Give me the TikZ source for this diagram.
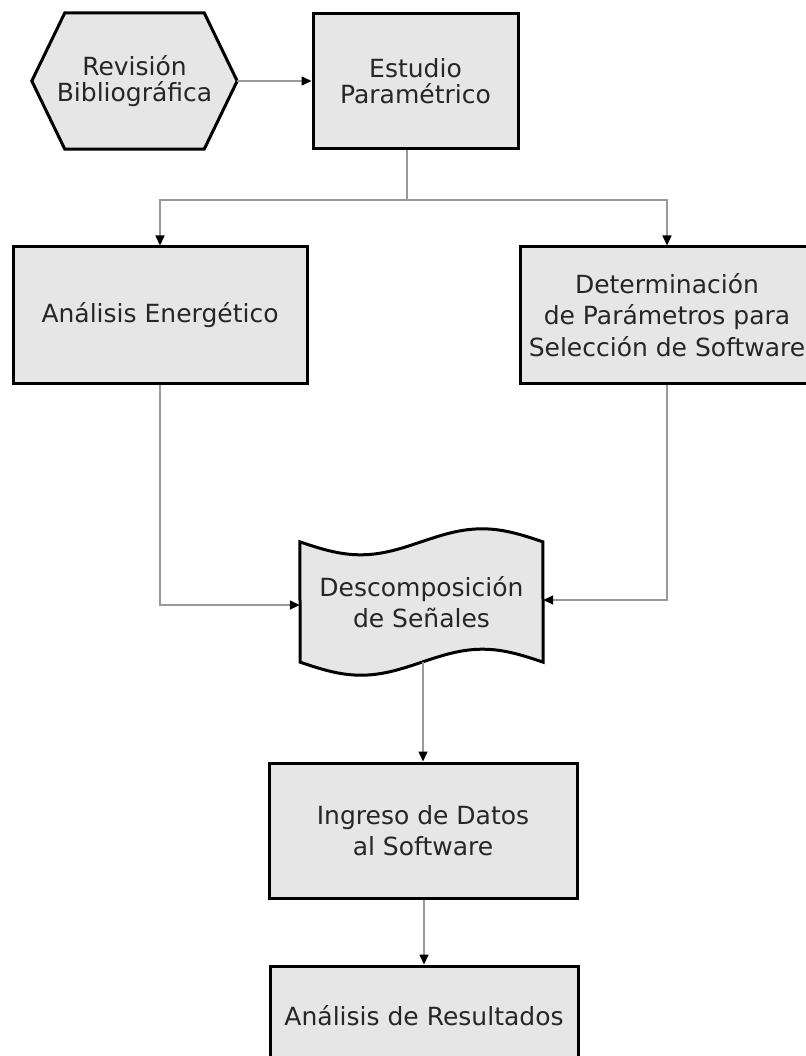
\documentclass[tikz,border=0pt]{standalone}
\usepackage{fontspec}
\setmainfont{DejaVu Sans}
\usetikzlibrary{arrows.meta,backgrounds}
\definecolor{cajagris}{HTML}{E6E6E6}
\definecolor{lineagris}{HTML}{999999}
\definecolor{textogris}{HTML}{262626}
\tikzset{
  caja/.style={draw=black, line width=3pt, fill=cajagris, text=textogris, align=center,
    inner sep=0pt, font=\fontsize{25}{31.5}\selectfont},
  libre/.style={text=textogris, align=center, inner sep=0pt, font=\fontsize{25}{31.5}\selectfont},
  forma/.style={draw=black, line width=3pt, fill=cajagris, line join=miter},
  linea/.style={draw=lineagris, line width=1.5pt},
  flecha/.style={linea, -{Triangle[length=10pt,width=9pt,color=black]}}
}
\begin{document}
\begin{tikzpicture}[x=1pt,y=-1pt]
  \useasboundingbox (0,0) rectangle (805,1056);
  % nodos
  \node[libre, minimum width=205pt, minimum height=136pt, font=\fontsize{25}{25.5}\selectfont]
    (revision) at (134.5,81) {Revisión\\Bibliográfica};
  \node[caja, minimum width=205pt, minimum height=135pt, font=\fontsize{25}{25.5}\selectfont]
    (estudio) at (415.5,81) {Estudio\\Paramétrico};
  \node[caja, minimum width=294pt, minimum height=136pt] (energia) at (160,315) {Análisis Energético};
  \node[caja, minimum width=294pt, minimum height=136pt] (parametros) at (667,315)
    {Determinación\\de Parámetros para\\Selección de Software};
  \node[libre, minimum width=243pt, minimum height=120pt] (senal) at (421.5,602)
    {Descomposición\\de Señales};
  \node[caja, minimum width=308pt, minimum height=135pt] (ingreso) at (423,830.5)
    {Ingreso de Datos\\al Software};
  \node[caja, minimum width=308pt, minimum height=100pt] (resultados) at (424,1016)
    {Análisis de Resultados};
  % formas de fondo
  \begin{scope}[on background layer]
    \draw[forma] (revision.west) -- ([xshift=33pt]revision.north west)
      -- ([xshift=-33pt]revision.north east) -- (revision.east)
      -- ([xshift=-33pt]revision.south east) -- ([xshift=33pt]revision.south west) -- cycle;
    \draw[forma] (senal.north west) sin ++(60.75,13) cos ++(60.75,-13) sin ++(60.75,-13) cos ++(60.75,13)
      -- (senal.south east) sin ++(-60.75,-13) cos ++(-60.75,13) sin ++(-60.75,13) cos ++(-60.75,-13) -- cycle;
  \end{scope}
  % conectores
  \coordinate (reparto) at (407,200);
  \draw[flecha] (revision.east) -- (estudio.west);
  \draw[linea] (estudio.south -| reparto) -- (reparto);
  \draw[flecha] (reparto) -| (energia.north);
  \draw[flecha] (reparto) -| (parametros.north);
  \draw[flecha] (energia.south) |- ([yshift=-3pt]senal.west);
  \draw[flecha] (parametros.south) |- ([yshift=2pt]senal.east);
  \draw[flecha] (senal.south -| ingreso.north) -- (ingreso.north);
  \draw[flecha] (ingreso.south -| resultados.north) -- (resultados.north);
\end{tikzpicture}
\end{document}
